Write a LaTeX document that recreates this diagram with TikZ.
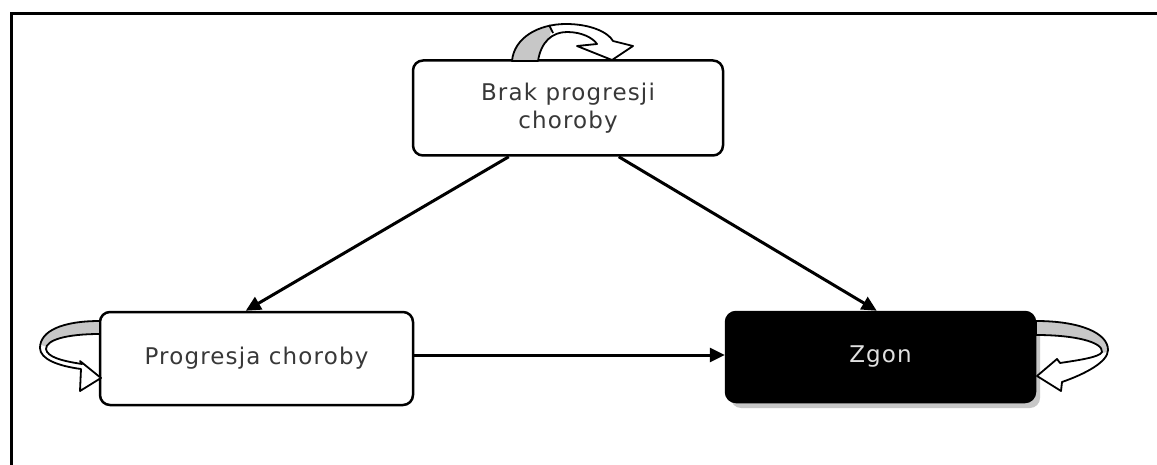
\documentclass[tikz,border=0pt]{standalone}
\usepackage{fontspec}
\setmainfont{DejaVu Sans}[LetterSpace=5]
\usetikzlibrary{arrows.meta,shadows,calc}

% self-loop ribbons, in pixel coordinates (y grows downward)
\newcommand{\looptop}{(512,61) .. controls (514,38) and (538,24) .. (566,24)
  .. controls (590,24) and (608,32) .. (613,41)
  -- (633,46) -- (612,60) -- (577,46) -- (597,44)
  .. controls (593,38) and (582,32) .. (567,32)
  .. controls (552,32) and (541,42) .. (538,61) -- cycle}
\newcommand{\loopleft}{(100,321) .. controls (62,321) and (40,331) .. (40,348)
  .. controls (40,359) and (58,366) .. (81,369)
  -- (80,391) -- (101,378) -- (80,361) -- (82,364)
  .. controls (62,361) and (47,357) .. (46,349)
  .. controls (46,340) and (66,334) .. (100,334) -- cycle}
\newcommand{\loopright}{(1036,321) .. controls (1080,321) and (1108,333) .. (1108,350)
  .. controls (1108,362) and (1085,374) .. (1062,382)
  -- (1061,391) -- (1037,376) -- (1057,359) -- (1060,363)
  .. controls (1080,360) and (1100,357) .. (1102,352)
  .. controls (1103,342) and (1075,335) .. (1036,335) -- cycle}

\begin{document}
\begin{tikzpicture}[x=1pt,y=-1pt,
  frameline/.style={line width=3pt},
  statebox/.style={draw, line width=2.5pt, rounded corners=10pt, fill=white,
    align=center, inner sep=0pt, text=black!78,
    font=\fontsize{23}{28}\selectfont},
  deadbox/.style={statebox, fill=black, text=black!12,
    drop shadow={shadow xshift=5pt, shadow yshift=-6pt, fill=black!22, opacity=1}},
  conn/.style={line width=3pt, -{Triangle[length=15pt,width=14pt]}},
  ribbon/.style={line width=1.8pt, line join=round},
  backface/.style={fill=black!22}]
\useasboundingbox (0,0) rectangle (1157,465);
\fill[white] (0,0) rectangle (1157,465);

% surrounding frame, only its left and top sides fall inside the picture
\draw[frameline] (11,475) -- (11,13.5) -- (1170,13.5);

% states
\node[statebox, minimum width=310pt, minimum height=95pt] (brak) at (568,108)
  {Brak progresji\\choroby};
\node[statebox, minimum width=313pt, minimum height=93pt] (prog) at (256.5,358.5)
  {Progresja choroby};
\node[deadbox, minimum width=309pt, minimum height=90pt] (zgon) at (880.5,357)
  {Zgon};

% transitions
\draw[conn] ([xshift=97pt]brak.south west) -- ([xshift=147pt]prog.north west);
\draw[conn] ([xshift=207pt]brak.south west) -- ([xshift=152pt]zgon.north west);
\draw[conn] (prog.east |- 0,355) -- (zgon.west |- 0,355);

% self-loops: white ribbon with a grey back face near the foot
\fill[white] \looptop;
\begin{scope}
  \clip (500,70) -- (500,10) -- (549,10) -- (551,30) -- (545,70) -- cycle;
  \fill[backface] \looptop;
\end{scope}
\draw[ribbon] \looptop;
\draw[ribbon] (549,25) -- (553,33);

\fill[white] \loopleft;
\begin{scope}
  \clip (30,341) -- (30,300) -- (110,300) -- (110,350) -- (47,347) -- cycle;
  \fill[backface] \loopleft;
\end{scope}
\draw[ribbon] \loopleft;

\fill[white] \loopright;
\begin{scope}
  \clip (1030,345) -- (1030,300) -- (1115,300) -- (1115,351) -- (1101,353) -- cycle;
  \fill[backface] \loopright;
\end{scope}
\draw[ribbon] \loopright;
\end{tikzpicture}
\end{document}
